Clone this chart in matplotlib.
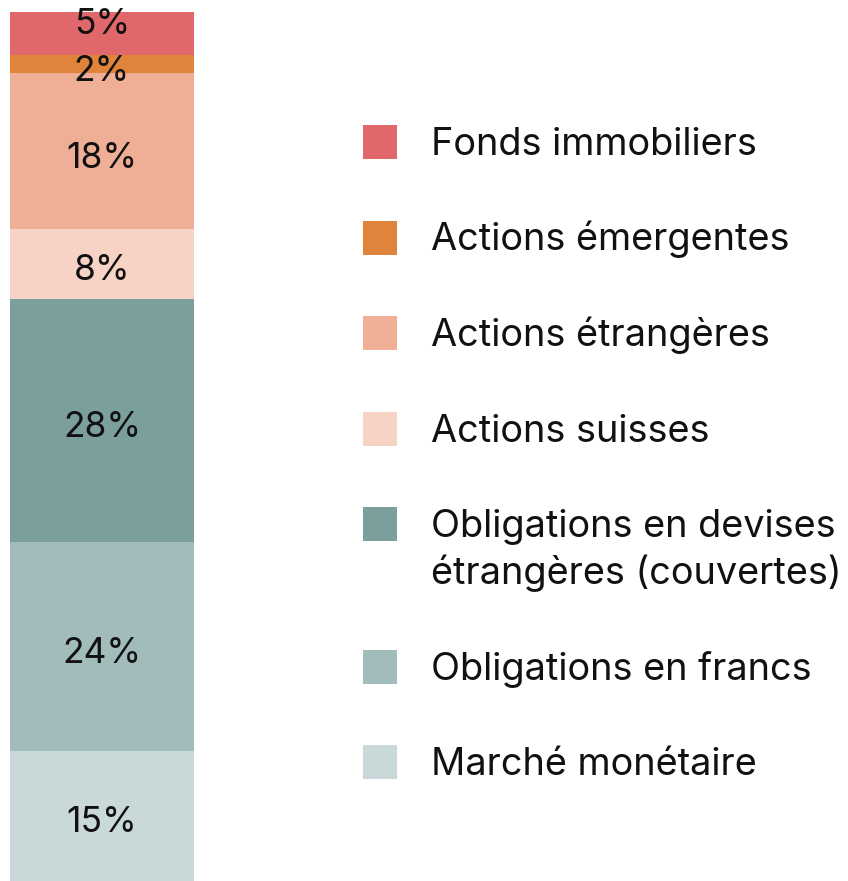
import matplotlib
matplotlib.use("Agg")
import matplotlib.pyplot as plt
from matplotlib.patches import Rectangle

plt.rcParams['font.family'] = ['Inter', 'DejaVu Sans']

# Data (top to bottom, as in legend)
categories = ["Fonds immobiliers", "Actions émergentes", "Actions étrangères",
              "Actions suisses", "Obligations en devises\nétrangères (couvertes)",
              "Obligations en francs", "Marché monétaire"]
values = [5, 2, 18, 8, 28, 24, 15]
colors = ["#E0686A", "#DF843A", "#EFAF96", "#F6D3C5", "#7A9F9D", "#A2BCBC", "#C9D8D9"]
labels = [f"{v}%" for v in values]

W, H = 848, 881
fig = plt.figure(figsize=(W / 100, H / 100), dpi=100)

ax = fig.add_axes([10 / W, 0, 184 / W, 1 - 12 / H])
bottom = 0
order = list(range(len(values)))[::-1]  # stack from bottom
for i in order:
    ax.bar(0, values[i], bottom=bottom, width=1, color=colors[i], linewidth=0)
    yc = bottom + values[i] / 2
    off = 1.5 if values[i] == 5 else -0.4
    ax.text(0, yc + off, labels[i], ha="center", va="center_baseline",
            fontsize=25.5, color="#111111")
    bottom += values[i]
ax.set_xlim(-0.5, 0.5)
ax.set_ylim(0, 100)
ax.axis("off")

# Legend drawn manually in pixel coordinates
lax = fig.add_axes([0, 0, 1, 1])
lax.set_xlim(0, W)
lax.set_ylim(H, 0)
lax.axis("off")
y = 142
for cat, col in zip(categories, colors):
    lax.add_patch(Rectangle((363, y - 17), 34, 34, color=col, linewidth=0))
    lines = cat.split("\n")
    for k, ln in enumerate(lines):
        lax.text(431, y + 13 + 47 * k, ln, ha="left", va="baseline",
                 fontsize=27.3, color="#111111")
    y += 95.5 + 47 * (len(lines) - 1)

fig.savefig("out.png", dpi=100)
